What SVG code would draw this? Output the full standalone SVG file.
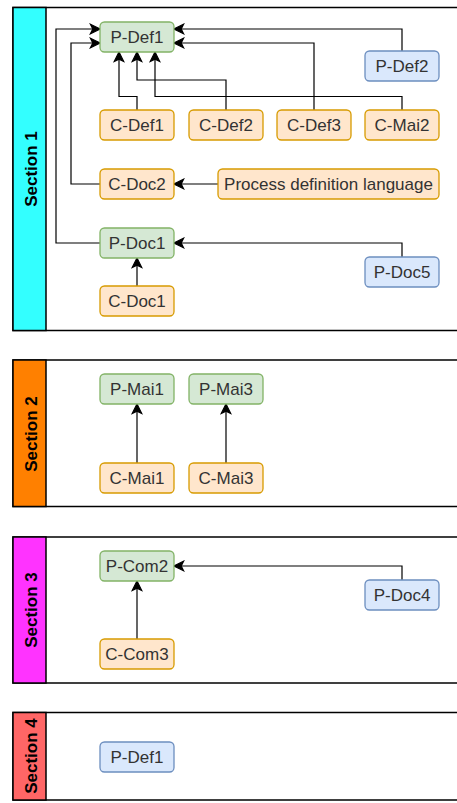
<svg xmlns="http://www.w3.org/2000/svg" width="457" height="803" viewBox="0 0 457 803">
  <style>
    .lane { fill: #ffffff; stroke: #000000; stroke-width: 1.5; }
    .head { stroke: #000000; stroke-width: 1.5; }
    .title { font-family: "Liberation Sans", Arial, sans-serif; font-size: 17px; font-weight: bold; fill: #000000; text-anchor: middle; }
    .label { font-family: "Liberation Sans", Arial, sans-serif; font-size: 17px; fill: #333333; text-anchor: middle; dominant-baseline: central; }
    .green { fill: #d5e8d4; stroke: #82b366; stroke-width: 1.3; }
    .orange { fill: #ffe6cc; stroke: #d79b00; stroke-width: 1.3; }
    .blue { fill: #dae8fc; stroke: #6c8ebf; stroke-width: 1.3; }
    .edge { fill: none; stroke: #000000; stroke-width: 1.2; marker-end: url(#arrow); }
  </style>
  <defs>
    <marker id="arrow" markerUnits="userSpaceOnUse" markerWidth="12" markerHeight="12" viewBox="0 0 10 10" refX="9" refY="5" orient="auto">
      <path d="M1,1 L9,5 L1,9 L3,5 Z" fill="#000000" stroke="#000000" stroke-width="1"/>
    </marker>
  </defs>

  <!-- Swimlanes -->
  <g id="section1">
    <rect class="lane" x="13" y="7.5" width="460" height="323"/>
    <rect class="head" x="13" y="7.5" width="33" height="323" fill="#33ffff"/>
    <text class="title" transform="translate(36.5 169) rotate(-90)">Section 1</text>
  </g>
  <g id="section2">
    <rect class="lane" x="13" y="360" width="460" height="146.5"/>
    <rect class="head" x="13" y="360" width="33" height="146.5" fill="#ff8000"/>
    <text class="title" transform="translate(36.5 434) rotate(-90)">Section 2</text>
  </g>
  <g id="section3">
    <rect class="lane" x="13" y="537" width="460" height="146"/>
    <rect class="head" x="13" y="537" width="33" height="146" fill="#ff33ff"/>
    <text class="title" transform="translate(36.5 610) rotate(-90)">Section 3</text>
  </g>
  <g id="section4">
    <rect class="lane" x="13" y="712.5" width="460" height="87.5"/>
    <rect class="head" x="13" y="712.5" width="33" height="87.5" fill="#ff6666"/>
    <text class="title" transform="translate(36.5 756) rotate(-90)">Section 4</text>
  </g>

  <!-- Connectors -->
  <g id="connectors">
    <path class="edge" d="M137,110 V96.5 H119 V52"/>
    <path class="edge" d="M226,110 V80 H137 V52"/>
    <path class="edge" d="M402,110 V96.5 H155 V52"/>
    <path class="edge" d="M314,110 V43 H174"/>
    <path class="edge" d="M402,51 V29 H174"/>
    <path class="edge" d="M100,184 H71 V43 H100"/>
    <path class="edge" d="M100,243 H56 V29 H100"/>
    <path class="edge" d="M218,184 H174"/>
    <path class="edge" d="M402,257 V243 H174"/>
    <path class="edge" d="M137,286 V258"/>
    <path class="edge" d="M137,463 V404"/>
    <path class="edge" d="M226,463 V404"/>
    <path class="edge" d="M137,639 V581"/>
    <path class="edge" d="M402,580 V566 H174"/>
  </g>

  <!-- Nodes: section 1 -->
  <g id="p-def1"><rect class="green" x="100" y="22" width="74" height="30" rx="4.5"/><text class="label" x="137" y="37">P-Def1</text></g>
  <g id="p-def2"><rect class="blue" x="365" y="51" width="74" height="30" rx="4.5"/><text class="label" x="402" y="66">P-Def2</text></g>
  <g id="c-def1"><rect class="orange" x="100" y="110" width="74" height="30" rx="4.5"/><text class="label" x="137" y="125">C-Def1</text></g>
  <g id="c-def2"><rect class="orange" x="189" y="110" width="74" height="30" rx="4.5"/><text class="label" x="226" y="125">C-Def2</text></g>
  <g id="c-def3"><rect class="orange" x="277" y="110" width="74" height="30" rx="4.5"/><text class="label" x="314" y="125">C-Def3</text></g>
  <g id="c-mai2"><rect class="orange" x="365" y="110" width="74" height="30" rx="4.5"/><text class="label" x="402" y="125">C-Mai2</text></g>
  <g id="c-doc2"><rect class="orange" x="100" y="169" width="74" height="30" rx="4.5"/><text class="label" x="137" y="184">C-Doc2</text></g>
  <g id="process-definition-language"><rect class="orange" x="218" y="169" width="221" height="30" rx="4.5"/><text class="label" x="328.5" y="184">Process definition language</text></g>
  <g id="p-doc1"><rect class="green" x="100" y="228" width="74" height="30" rx="4.5"/><text class="label" x="137" y="243">P-Doc1</text></g>
  <g id="p-doc5"><rect class="blue" x="365" y="257" width="74" height="30" rx="4.5"/><text class="label" x="402" y="272">P-Doc5</text></g>
  <g id="c-doc1"><rect class="orange" x="100" y="286" width="74" height="30" rx="4.5"/><text class="label" x="137" y="301">C-Doc1</text></g>

  <!-- Nodes: section 2 -->
  <g id="p-mai1"><rect class="green" x="100" y="374" width="74" height="30" rx="4.5"/><text class="label" x="137" y="389">P-Mai1</text></g>
  <g id="p-mai3"><rect class="green" x="189" y="374" width="74" height="30" rx="4.5"/><text class="label" x="226" y="389">P-Mai3</text></g>
  <g id="c-mai1"><rect class="orange" x="100" y="463" width="74" height="30" rx="4.5"/><text class="label" x="137" y="478">C-Mai1</text></g>
  <g id="c-mai3"><rect class="orange" x="189" y="463" width="74" height="30" rx="4.5"/><text class="label" x="226" y="478">C-Mai3</text></g>

  <!-- Nodes: section 3 -->
  <g id="p-com2"><rect class="green" x="100" y="551" width="74" height="30" rx="4.5"/><text class="label" x="137" y="566">P-Com2</text></g>
  <g id="p-doc4"><rect class="blue" x="365" y="580" width="74" height="30" rx="4.5"/><text class="label" x="402" y="595">P-Doc4</text></g>
  <g id="c-com3"><rect class="orange" x="100" y="639" width="74" height="30" rx="4.5"/><text class="label" x="137" y="654">C-Com3</text></g>

  <!-- Nodes: section 4 -->
  <g id="p-def1-ref"><rect class="blue" x="100" y="742" width="74" height="30" rx="4.5"/><text class="label" x="137" y="757">P-Def1</text></g>
</svg>
